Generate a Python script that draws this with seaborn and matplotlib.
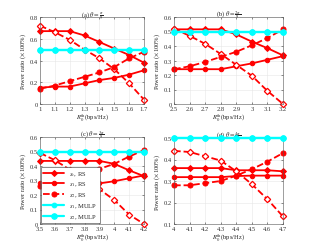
import numpy as np
import pandas as pd
import matplotlib
matplotlib.use("Agg")
import matplotlib.pyplot as plt
import seaborn as sns

sns.set_theme(style="ticks")
plt.rcParams['font.family'] = ['Liberation Serif', 'DejaVu Serif']
plt.rcParams['mathtext.fontset'] = 'stix'

# x values for each panel
x_a = [1.0, 1.1, 1.2, 1.3, 1.4, 1.5, 1.6, 1.7]
x_b = [2.5, 2.6, 2.7, 2.8, 2.9, 3.0, 3.1, 3.2]
x_c = [3.5, 3.6, 3.7, 3.8, 3.9, 4.0, 4.1, 4.2]
x_d = [4.0, 4.1, 4.2, 4.3, 4.4, 4.5, 4.6, 4.7]

# panel (a)
sc_a = [0.72, 0.66, 0.59, 0.50, 0.42, 0.32, 0.19, 0.04]
s1_a = [0.67, 0.67, 0.67, 0.63, 0.57, 0.51, 0.45, 0.38]
s2_a = [0.15, 0.16, 0.16, 0.19, 0.22, 0.24, 0.27, 0.31]
sd_a = [0.14, 0.17, 0.21, 0.25, 0.29, 0.34, 0.42, 0.48]

# panel (b)
sc_b = [0.52, 0.47, 0.415, 0.345, 0.27, 0.195, 0.09, 0.0]
s1_b = [0.515, 0.515, 0.515, 0.515, 0.48, 0.43, 0.385, 0.335]
s2_b = [0.24, 0.24, 0.24, 0.24, 0.26, 0.28, 0.305, 0.33]
sd_b = [0.24, 0.26, 0.29, 0.325, 0.36, 0.405, 0.455, 0.515]

# panel (c)
sc_c = [0.49, 0.44, 0.375, 0.305, 0.24, 0.165, 0.065, 0.0]
s1_c = [0.435, 0.435, 0.435, 0.435, 0.435, 0.415, 0.37, 0.33]
s2_c = [0.28, 0.28, 0.28, 0.28, 0.28, 0.295, 0.315, 0.335]
sd_c = [0.265, 0.285, 0.315, 0.345, 0.38, 0.415, 0.465, 0.51]

# panel (d)
sc_d = [0.44, 0.435, 0.415, 0.395, 0.345, 0.285, 0.215, 0.135]
s1_d = [0.36, 0.36, 0.36, 0.36, 0.35, 0.35, 0.35, 0.345]
s2_d = [0.318, 0.318, 0.318, 0.318, 0.323, 0.325, 0.325, 0.325]
sd_d = [0.28, 0.28, 0.29, 0.30, 0.325, 0.355, 0.39, 0.43]

mulp = [0.5] * 8

titles = [r'(a) $\theta=\frac{\pi}{9}$', r'(b) $\theta=\frac{2\pi}{9}$',
          r'(c) $\theta=\frac{3\pi}{9}$', r'(d) $\theta=\frac{4\pi}{9}$']
ylims = [(0, 0.8), (0, 0.6), (0, 0.6), (0.1, 0.5)]
yticks = [np.arange(0, 0.81, 0.2), np.arange(0, 0.61, 0.1),
          np.arange(0, 0.61, 0.1), np.arange(0.1, 0.51, 0.1)]

panels = [(x_a, sc_a, s1_a, s2_a, sd_a), (x_b, sc_b, s1_b, s2_b, sd_b),
          (x_c, sc_c, s1_c, s2_c, sd_c), (x_d, sc_d, s1_d, s2_d, sd_d)]

# axes rectangles in pixels (left, top, right, bottom)
W, H = 313, 253
rects = [(40, 18, 144, 105), (174, 18, 283, 105),
         (40, 138, 144, 225), (174, 139, 283, 225)]

fig = plt.figure(figsize=(W / 100, H / 100), dpi=100)
fs = 4.7
red = '#ff0000'
cyan = '#00ffff'

for i, (x, sc, s1, s2, sd) in enumerate(panels):
    l, t, r, b = rects[i]
    ax = fig.add_axes([l / W, 1 - b / H, (r - l) / W, (b - t) / H])
    # cyan MULP lines (drawn on top of the red ones)
    sns.lineplot(x=x, y=mulp, ax=ax, color=cyan, lw=1.6, marker='o', ms=3.4,
                 mec=cyan, label=r'$s_1$, MULP', clip_on=False, zorder=5)
    sns.lineplot(x=x, y=mulp, ax=ax, color=cyan, lw=1.6, marker='o', ms=4.0,
                 mec=cyan, label=r'$s_2$, MULP', clip_on=False, zorder=5)
    # RS lines
    sns.lineplot(x=x, y=s1, ax=ax, color=red, lw=1.3, marker='D', ms=3.0,
                 mec=red, label=r'$s_c$, RS', clip_on=False)
    sns.lineplot(x=x, y=s2, ax=ax, color=red, lw=1.3, marker='o', ms=3.2,
                 mec=red, label=r'$s_1$, RS', clip_on=False)
    sns.lineplot(x=x, y=sc, ax=ax, color=red, lw=1.3, ls='--', marker='D', ms=3.2,
                 mfc='white', mec=red, mew=0.9, label='_nolegend_', clip_on=False)
    sns.lineplot(x=x, y=sd, ax=ax, color=red, lw=1.3, ls='--', marker='o', ms=3.6,
                 mec=red, label=r'$s_2$, RS', clip_on=False)
    ax.set_xlim(x[0], x[-1])
    ax.set_ylim(*ylims[i])
    ax.set_xticks(x)
    ax.set_xticklabels([f'{v:g}' for v in x])
    ax.set_yticks(yticks[i])
    ax.set_yticklabels([f'{v:g}' for v in np.round(yticks[i], 1)])
    ax.tick_params(direction='in', labelsize=fs, length=1.5, width=0.4, pad=1.5,
                   top=True, right=True, colors='#333333')
    ax.grid(True, color='#e6e6e6', lw=0.4)
    for s in ax.spines.values():
        s.set_linewidth(0.4)
        s.set_color('#555555')
    ax.set_title(titles[i], fontsize=fs, pad=1.5)
    ax.set_xlabel(r'$R_0^{\rm th}$(bps/Hz)', fontsize=fs, labelpad=0.5)
    ax.set_ylabel(r'Power ratio ($\times$100%)', fontsize=fs, labelpad=1)
    leg = ax.get_legend()
    if i == 2:
        h, lab = ax.get_legend_handles_labels()
        order = [2, 3, 4, 0, 1]
        ax.legend([h[k] for k in order], [lab[k] for k in order], loc='lower left',
                  fontsize=fs, frameon=True, fancybox=False, edgecolor='#333333',
                  framealpha=1, borderpad=0.35, labelspacing=0.3, handlelength=3.2,
                  borderaxespad=0.15).get_frame().set_linewidth(0.4)
    elif leg is not None:
        leg.remove()

fig.savefig('out.png', dpi=100)
